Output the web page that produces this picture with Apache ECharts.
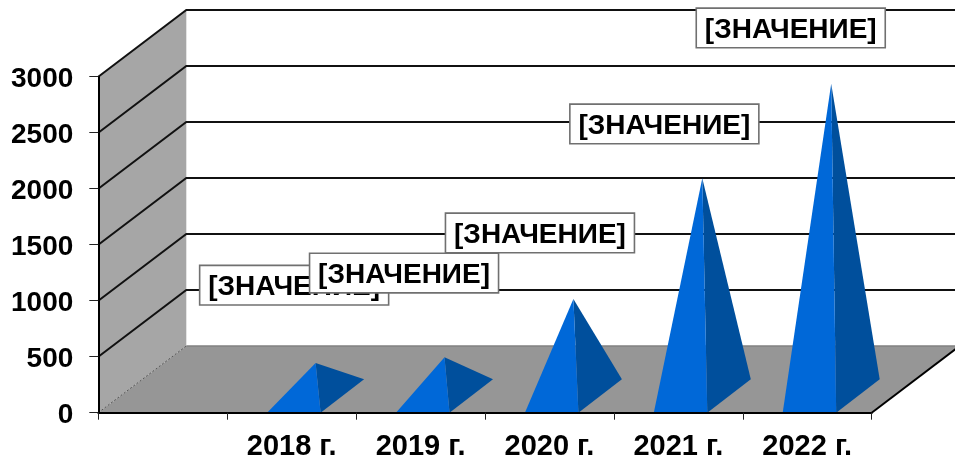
<!DOCTYPE html>
<html>
<head>
<meta charset="utf-8">
<style>html,body{margin:0;padding:0;background:#fff;overflow:hidden}#c{width:955px;height:461px}</style>
<script src="https://cdn.jsdelivr.net/npm/echarts@6/dist/echarts.min.js"></script>
</head>
<body>
<div id="c"></div>
<script>
const categories = ['', '2018 г.', '2019 г.', '2020 г.', '2021 г.', '2022 г.'];
const years = ['2018 г.', '2019 г.', '2020 г.', '2021 г.', '2022 г.'];
const values = [295, 347, 866, 1945, 2787];
const yTicks = [0, 500, 1000, 1500, 2000, 2500, 3000];
const labelText = '[ЗНАЧЕНИЕ]';

// Oblique projection of the depth axis, in pixels
const DX = 88, DY = 66.7;
const BASE_W = 53.5, BASE_SHIFT = 2.2, BASE_DX = 43.5, BASE_DY = 33.4;
// Label box placement relative to each value's point on the front plane
const LABEL_SHIFT = [[2.5, -94.5], [-16.5, -100.8], [-9.5, -82.8], [-14, -70.9], [-16.5, -72.6]];
const FAMILY = '"Liberation Sans", Arial, sans-serif';

function frameItem(params, api) {
  const band = api.size([1, 0])[0];
  const left = api.coord([0, 0])[0] - band / 2;
  const right = api.coord([5, 0])[0] + band / 2;
  const y0 = api.coord([0, 0])[1];
  const yT = api.coord([0, 3000])[1];
  const children = [
    { type: 'polygon', shape: { points: [[left, yT], [left + DX, yT - DY], [left + DX, y0 - DY], [left, y0]] },
      style: { fill: '#a6a6a6' } },
    { type: 'polygon', shape: { points: [[left, y0], [right, y0], [right + DX, y0 - DY], [left + DX, y0 - DY]] },
      style: { fill: '#969696' } },
    { type: 'polyline', shape: { points: [[left, y0], [left + DX, y0 - DY]] },
      style: { stroke: '#555', lineWidth: 1, lineDash: [2, 2], fill: null } },
    { type: 'polyline', shape: { points: [[left + DX, y0 - DY], [right + DX, y0 - DY]] },
      style: { stroke: '#808080', lineWidth: 1.5, fill: null } },
    { type: 'polyline', shape: { points: [[right, y0], [right + DX, y0 - DY]] },
      style: { stroke: '#000', lineWidth: 2, fill: null } }
  ];
  yTicks.forEach(function (t) {
    if (t === 0) return;
    const y = api.coord([0, t])[1];
    children.push({ type: 'polyline', shape: { points: [[left, y], [left + DX, y - DY], [right + DX, y - DY]] },
      style: { stroke: '#111', lineWidth: 2, fill: null } });
  });
  return { type: 'group', children: children };
}

function pyramidItem(params, api) {
  const cat = api.value(0), val = api.value(1);
  const p0 = api.coord([cat, 0]);
  const pv = api.coord([cat, val]);
  const fl = [p0[0] + BASE_SHIFT - BASE_W / 2, p0[1]];
  const fr = [p0[0] + BASE_SHIFT + BASE_W / 2, p0[1]];
  const br = [fr[0] + BASE_DX, fr[1] - BASE_DY];
  const apex = [(fl[0] + br[0]) / 2, pv[1] - BASE_DY / 2];
  return { type: 'group', children: [
    { type: 'polygon', shape: { points: [fr, br, apex] }, style: { fill: '#004f9c' } },
    { type: 'polygon', shape: { points: [fl, fr, apex] }, style: { fill: '#0068d8' } }
  ] };
}

function labelItem(params, api) {
  const p = api.coord([api.value(0), api.value(1)]);
  const s = LABEL_SHIFT[params.dataIndex];
  const cx = p[0] + s[0], cy = p[1] + s[1];
  return { type: 'group', children: [
    { type: 'rect', shape: { x: cx - 94.5, y: cy - 19.8, width: 189, height: 39.6 },
      style: { fill: '#fff', stroke: '#707070', lineWidth: 1.6 } },
    { type: 'text', style: { x: cx, y: cy + 2, text: labelText, fill: '#000',
      fontSize: 28, fontWeight: 'bold', fontFamily: FAMILY,
      align: 'center', verticalAlign: 'middle' } }
  ] };
}

const points = years.map(function (y, i) { return [y, values[i]]; });
const chart = echarts.init(document.getElementById('c'), null, { renderer: 'canvas' });
chart.setOption({
  animation: false,
  backgroundColor: '#fff',
  grid: { left: 98.3, right: 83.3, top: 76.7, bottom: 48.3, containLabel: false, outerBoundsMode: 'none' },
  xAxis: {
    type: 'category', data: categories, boundaryGap: true, z: 5,
    axisLine: { lineStyle: { color: '#000', width: 2 } },
    axisTick: { show: true, alignWithLabel: false, interval: 0, length: 7, lineStyle: { color: '#222', width: 1 } },
    axisLabel: { interval: 0, margin: 20, color: '#000', fontWeight: 'bold', fontSize: 29, fontFamily: FAMILY },
    splitLine: { show: false }
  },
  yAxis: {
    type: 'value', min: 0, max: 3000, interval: 500, z: 5,
    axisLine: { show: true, lineStyle: { color: '#000', width: 2 } },
    axisTick: { show: true, length: 9, lineStyle: { color: '#222', width: 1 } },
    axisLabel: { margin: 25, color: '#000', fontWeight: 'bold', fontSize: 28, fontFamily: FAMILY,
      verticalAlign: 'top', lineHeight: 6, formatter: function (v) { return String(v); } },
    splitLine: { show: false }
  },
  series: [
    { type: 'custom', coordinateSystem: 'cartesian2d', renderItem: frameItem, data: [[years[0], 0]], clip: false, z: 1, silent: true },
    { type: 'custom', coordinateSystem: 'cartesian2d', renderItem: pyramidItem, data: points, clip: false, z: 2, silent: true },
    { type: 'custom', coordinateSystem: 'cartesian2d', renderItem: labelItem, data: points, clip: false, z: 6, silent: true }
  ]
});
</script>
</body>
</html>
